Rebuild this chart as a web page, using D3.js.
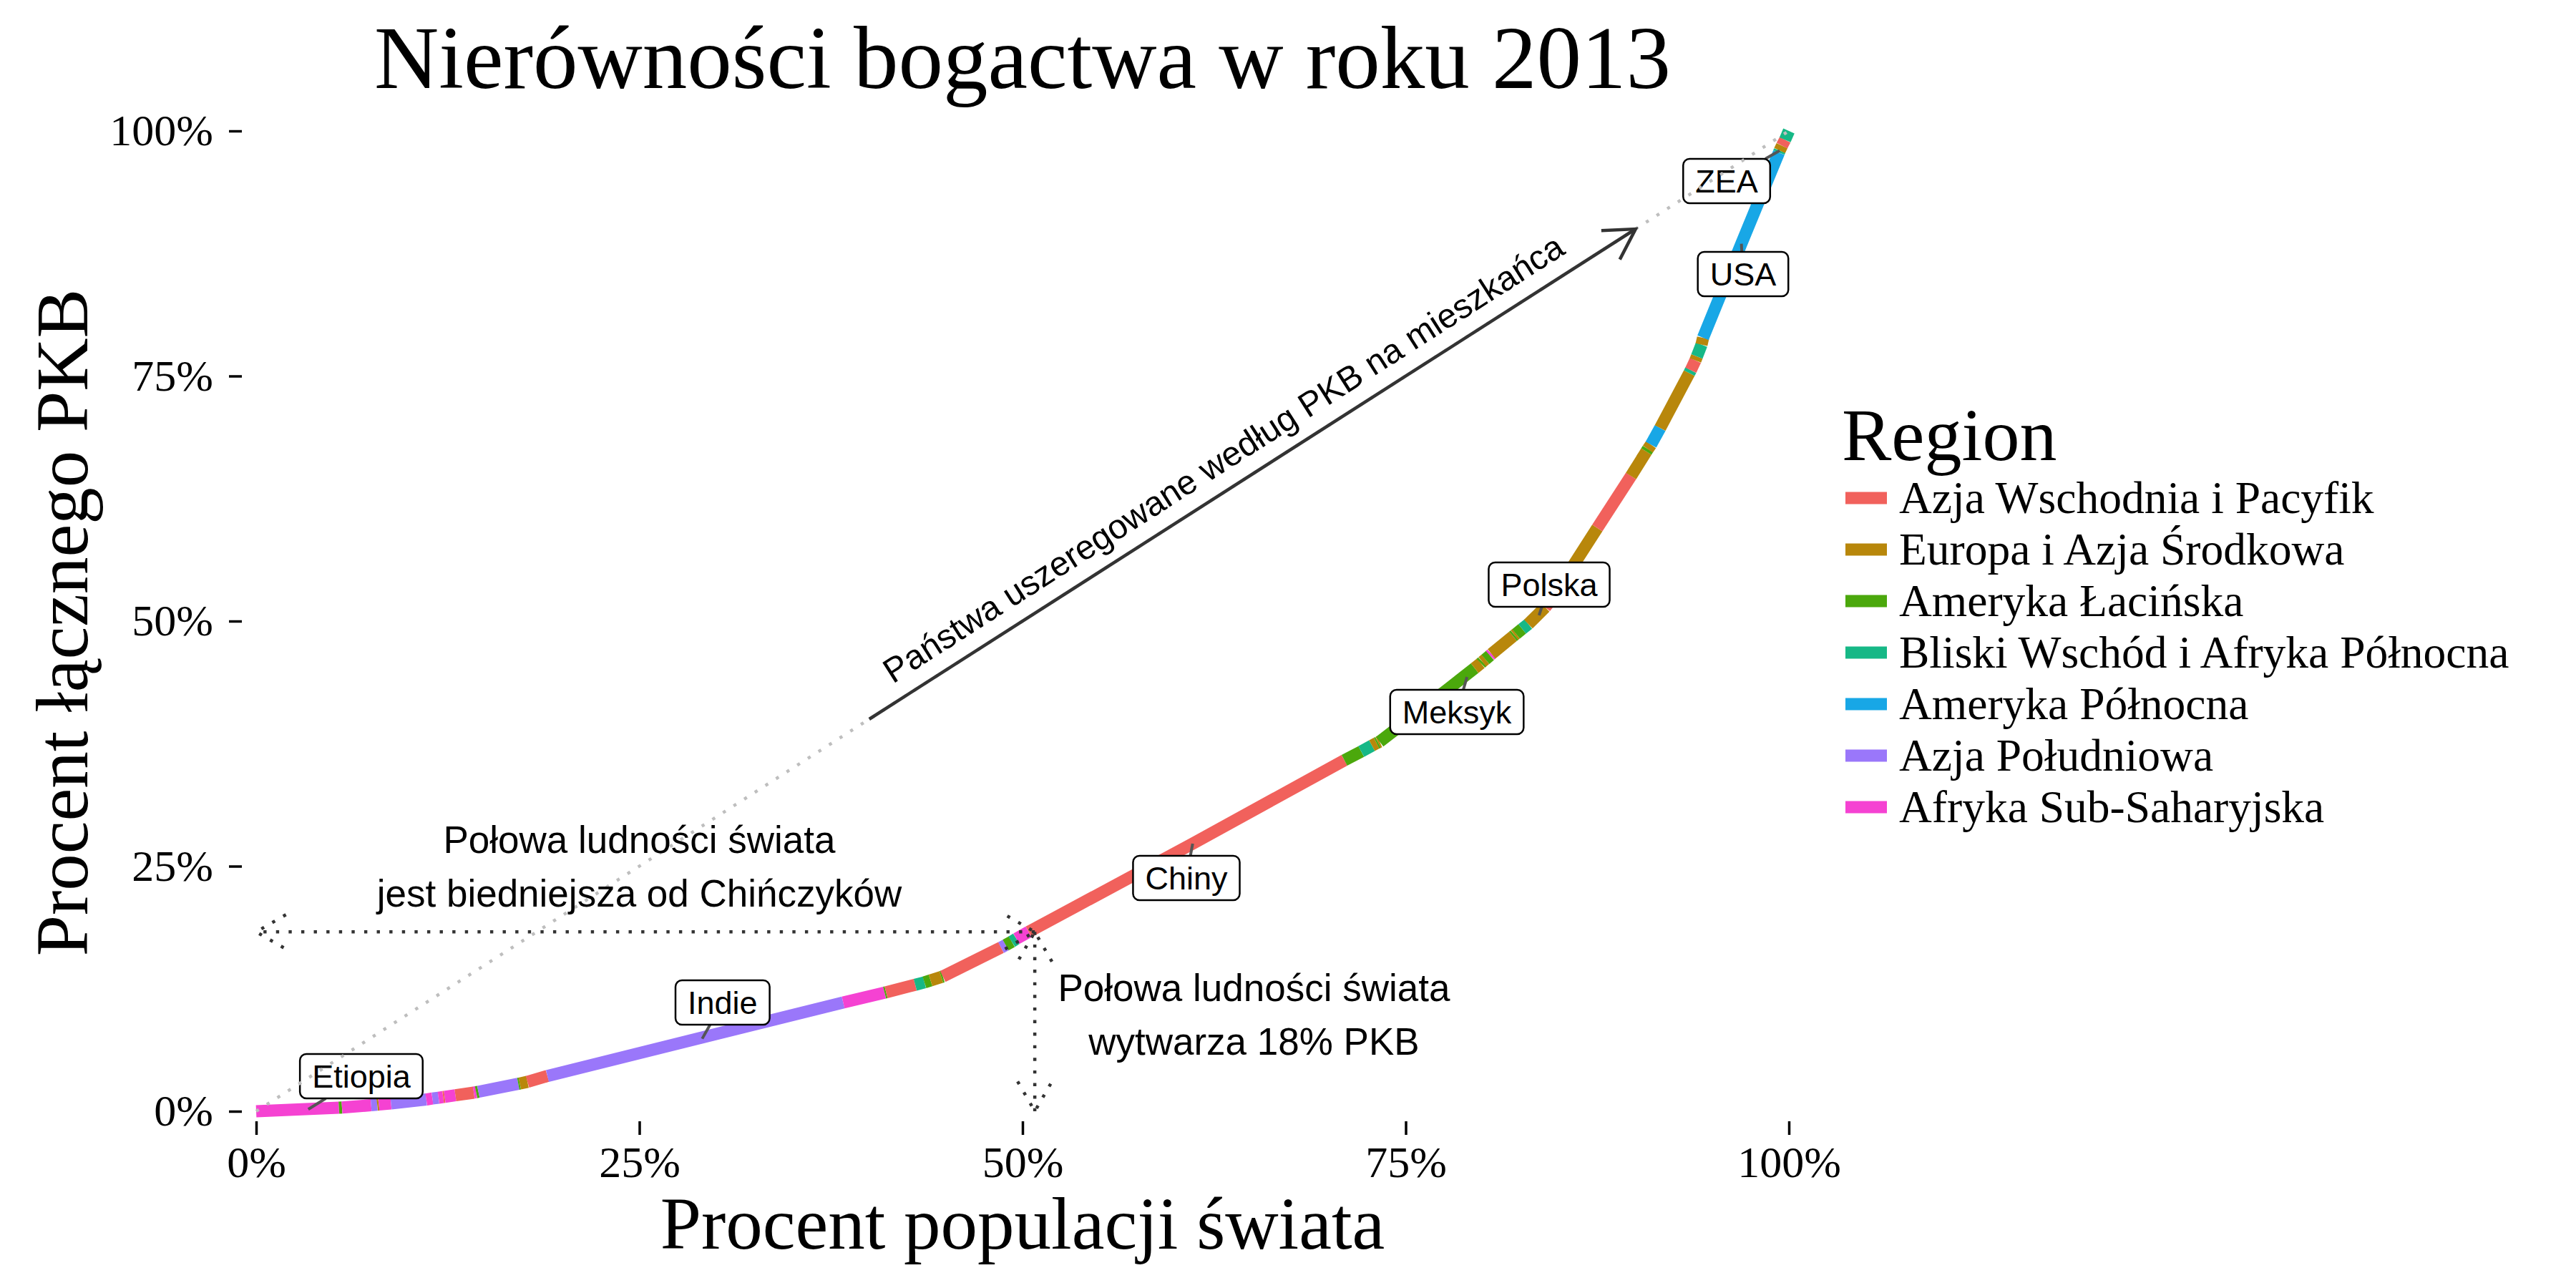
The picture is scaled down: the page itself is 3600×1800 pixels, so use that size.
<!DOCTYPE html>
<html lang="pl">
<head>
<meta charset="UTF-8">
<title>Nierówności bogactwa w roku 2013</title>
<script src="https://d3js.org/d3.v7.min.js"></script>
<style>
  body { margin: 0; background: #fff; }
  svg { display: block; }
</style>
</head>
<body>
<script>
var w = 3600, h = 1800;

// regions (legend order) and their colours
var regions = ["Azja Wschodnia i Pacyfik", "Europa i Azja Środkowa", "Ameryka Łacińska",
  "Bliski Wschód i Afryka Północna", "Ameryka Północna", "Azja Południowa", "Afryka Sub-Saharyjska"];
var regionColors = ["#F1615C", "#B8870B", "#4BA80C", "#16B886", "#18A7E6", "#9A77FA", "#F542D2"];

// countries sorted by GDP per capita: cumulative population share, cumulative GDP share,
// and the region of the piece of curve that ends at this point (-1 for the origin)
var popShare = [0, 0.054, 0.056, 0.075, 0.079, 0.080, 0.088, 0.111, 0.115, 0.119, 0.122, 0.123,
  0.130, 0.142, 0.1435, 0.145, 0.171, 0.172, 0.177, 0.190, 0.383, 0.410, 0.411, 0.430, 0.436,
  0.440, 0.447, 0.448, 0.486, 0.489, 0.493, 0.496, 0.504, 0.611, 0.710, 0.721, 0.728, 0.731,
  0.732, 0.733, 0.777, 0.795, 0.799, 0.800, 0.802, 0.805, 0.806, 0.820, 0.821, 0.822, 0.826,
  0.830, 0.841, 0.846, 0.859, 0.875, 0.897, 0.907, 0.908, 0.910, 0.916, 0.935, 0.936, 0.939,
  0.940, 0.943, 0.944, 0.969, 0.9935, 0.994, 0.9955, 0.9975, 1.0];
var gdpShare = [0, 0.0036, 0.0038, 0.0062, 0.0067, 0.0069, 0.008, 0.012, 0.013, 0.0138, 0.0145,
  0.0147, 0.0163, 0.019, 0.0194, 0.0199, 0.028, 0.0283, 0.030, 0.036, 0.111, 0.121, 0.1214,
  0.129, 0.1315, 0.1335, 0.137, 0.1375, 0.167, 0.1695, 0.173, 0.176, 0.183, 0.273, 0.358, 0.367,
  0.373, 0.3755, 0.3763, 0.377, 0.430, 0.452, 0.457, 0.4585, 0.461, 0.465, 0.4665, 0.4845,
  0.4858, 0.487, 0.492, 0.497, 0.514, 0.524, 0.556, 0.595, 0.648, 0.673, 0.6755, 0.680, 0.697,
  0.753, 0.756, 0.766, 0.770, 0.782, 0.789, 0.885, 0.978, 0.980, 0.985, 0.991, 1.0];
var pieceRegion = [-1, 6, 2, 6, 5, 1, 6, 5, 6, 5, 6, 0,
  6, 0, 6, 2, 5, 2, 1, 0, 5, 6, 2, 0, 3,
  2, 1, 2, 0, 5, 2, 3, 6, 0, 0, 2, 3, 1,
  2, 1, 2, 2, 1, 2, 1, 2, 6, 1, 2, 1, 2,
  3, 1, 0, 1, 1, 0, 1, 2, 1, 4, 1, 3, 0,
  1, 3, 1, 4, 4, 3, 1, 0, 3];

// labelled countries: the point on the curve and where its label box sits
var labelNames = ["Etiopia", "Indie", "Chiny", "Meksyk", "Polska", "ZEA", "USA"];
var labelPop = [0.034, 0.291, 0.611, 0.790, 0.837, 0.994, 0.969];
var labelGdp = [0.002, 0.074, 0.273, 0.443, 0.506, 0.980, 0.885];
var labelBoxPop = [0.0686, 0.3043, 0.6069, 0.7834, 0.8436, 0.9594, 0.9701];
var labelBoxGdp = [0.0358, 0.1109, 0.2380, 0.4073, 0.5372, 0.9489, 0.8540];

// annotations
var halfPop = 0.508, halfGdp = 0.183;
var rankArrowFrom = 0.4, rankArrowTo = 0.9;
var rankText = "Państwa uszeregowane według PKB na mieszkańca";
var rankTextPos = [0.631, 0.666];
var noteLines = [["Połowa ludności świata", "jest biedniejsza od Chińczyków"],
  ["Połowa ludności świata", "wytwarza 18% PKB"]];
var notePop = [0.25, 0.651];
var noteGdp = [0.249, 0.0985];

var axisTicks = [0, 0.25, 0.5, 0.75, 1];

var serif = "'Liberation Serif', 'Times New Roman', serif";
var sans = "'Liberation Sans', Arial, Helvetica, sans-serif";

var x = d3.scaleLinear().domain([0, 1]).range([358, 2500]);
var y = d3.scaleLinear().domain([0, 1]).range([1553, 183]);
var color = d3.scaleOrdinal().domain(d3.range(regions.length)).range(regionColors);

var svg = d3.select("body").append("svg")
  .attr("width", w)
  .attr("height", h)
  .style("background", "#fff");

// axes
var yAxis = svg.append("g")
  .attr("transform", "translate(338,0)")
  .call(d3.axisLeft(y).tickValues(axisTicks).tickFormat(d3.format(".0%")).tickSize(18).tickPadding(22));
var xAxis = svg.append("g")
  .attr("transform", "translate(0,1567)")
  .call(d3.axisBottom(x).tickValues(axisTicks).tickFormat(d3.format(".0%")).tickSize(19).tickPadding(15));
[yAxis, xAxis].forEach(function (g) {
  g.select(".domain").remove();
  g.selectAll(".tick line").attr("stroke", "#000").attr("stroke-width", 3.5);
  g.selectAll(".tick text").attr("fill", "#000").style("font-family", serif).style("font-size", "62px");
});

// the curve, one path per run of countries from the same region
var line = d3.line()
  .x(function (i) { return x(popShare[i]); })
  .y(function (i) { return y(gdpShare[i]); });

var runs = [];
var start = 0;
for (var i = 1; i < popShare.length; i++) {
  if (i === popShare.length - 1 || pieceRegion[i + 1] !== pieceRegion[i]) {
    runs.push({ region: pieceRegion[i], idx: d3.range(start, i + 1) });
    start = i;
  }
}
svg.append("g").selectAll("path")
  .data(runs)
  .enter()
  .append("path")
  .attr("d", function (r) { return line(r.idx); })
  .attr("fill", "none")
  .attr("stroke", function (r) { return color(r.region); })
  .attr("stroke-width", 17)
  .attr("stroke-linejoin", "round")
  .attr("stroke-linecap", "butt");

// labels with leader segments
var labels = svg.append("g");
labelNames.forEach(function (name, k) {
  var cx = x(labelBoxPop[k]), cy = y(labelBoxGdp[k]);
  var px = x(labelPop[k]), py = y(labelGdp[k]);
  var g = labels.append("g");
  var seg = g.append("line");
  var box = g.append("rect");
  var t = g.append("text")
    .attr("x", cx)
    .attr("y", cy + 16)
    .attr("text-anchor", "middle")
    .style("font-family", sans)
    .style("font-size", "45px")
    .text(name);
  var bw = t.node().getComputedTextLength() + 34, bh = 62;
  box.attr("x", cx - bw / 2).attr("y", cy - bh / 2)
    .attr("width", bw).attr("height", bh)
    .attr("rx", 9)
    .attr("fill", "#fff")
    .attr("stroke", "#000")
    .attr("stroke-width", 2.5);
  // segment from box edge to the point
  var dx = px - cx, dy = py - cy;
  var s = Math.min(Math.abs((bw / 2) / (dx || 1e-9)), Math.abs((bh / 2) / (dy || 1e-9)));
  seg.attr("x1", cx + dx * s).attr("y1", cy + dy * s)
    .attr("x2", px).attr("y2", py)
    .attr("stroke", "#555")
    .attr("stroke-width", 4);
});

// line of perfect equality
svg.append("path")
  .attr("d", d3.line()([[x(0), y(0)], [x(1), y(1)]]))
  .attr("stroke", "#BEBEBE")
  .attr("stroke-width", 4.4)
  .attr("stroke-dasharray", "4.4 13.2")
  .attr("fill", "none");

function arrowHead(x1, y1, x2, y2, len) {
  var a = Math.atan2(y2 - y1, x2 - x1);
  return [[x2 - len * Math.cos(a - Math.PI / 6), y2 - len * Math.sin(a - Math.PI / 6)],
    [x2, y2],
    [x2 - len * Math.cos(a + Math.PI / 6), y2 - len * Math.sin(a + Math.PI / 6)]];
}

function drawArrow(p1, p2, both, dotted) {
  var g = svg.append("g")
    .attr("fill", "none")
    .attr("stroke", "#333")
    .attr("stroke-width", 4.5);
  if (dotted) g.attr("stroke-dasharray", "4.4 13.2");
  g.append("path").attr("d", d3.line()([p1, p2]));
  g.append("path").attr("d", d3.line()(arrowHead(p1[0], p1[1], p2[0], p2[1], 48)));
  if (both) g.append("path").attr("d", d3.line()(arrowHead(p2[0], p2[1], p1[0], p1[1], 48)));
}

drawArrow([x(rankArrowFrom), y(rankArrowFrom)], [x(rankArrowTo), y(rankArrowTo)], false, false);
drawArrow([x(halfPop), y(halfGdp)], [x(0), y(halfGdp)], true, true);
drawArrow([x(halfPop), y(halfGdp)], [x(halfPop), y(0)], true, true);

var angle = -Math.atan2(y(0) - y(1), x(1) - x(0)) * 180 / Math.PI;
svg.append("text")
  .attr("transform", "translate(" + x(rankTextPos[0]) + "," + y(rankTextPos[1]) + ") rotate(" + angle + ")")
  .attr("text-anchor", "middle")
  .attr("dy", "0.35em")
  .style("font-family", sans)
  .style("font-size", "48px")
  .text(rankText);

noteLines.forEach(function (lines, k) {
  var t = svg.append("text")
    .attr("text-anchor", "middle")
    .style("font-family", sans)
    .style("font-size", "53px");
  lines.forEach(function (l, j) {
    t.append("tspan")
      .attr("x", x(notePop[k]))
      .attr("y", y(noteGdp[k]) + (j - (lines.length - 1) / 2) * 75 + 18)
      .text(l);
  });
});

// titles
svg.append("text")
  .attr("x", 1429).attr("y", 123)
  .attr("text-anchor", "middle")
  .style("font-family", serif)
  .style("font-size", "125px")
  .text("Nierówności bogactwa w roku 2013");
svg.append("text")
  .attr("x", 1429).attr("y", 1745)
  .attr("text-anchor", "middle")
  .style("font-family", serif)
  .style("font-size", "103px")
  .text("Procent populacji świata");
svg.append("text")
  .attr("transform", "translate(122,870) rotate(-90)")
  .attr("text-anchor", "middle")
  .style("font-family", serif)
  .style("font-size", "103px")
  .text("Procent łącznego PKB");

// legend
var legend = svg.append("g");
legend.append("text")
  .attr("x", 2574).attr("y", 643)
  .style("font-family", serif)
  .style("font-size", "104px")
  .text("Region");
var item = legend.selectAll("g.item")
  .data(regions)
  .enter()
  .append("g")
  .attr("class", "item")
  .attr("transform", function (d, i) { return "translate(0," + (696 + i * 72) + ")"; });
item.append("rect")
  .attr("x", 2579).attr("y", -8.5)
  .attr("width", 58).attr("height", 17)
  .attr("fill", function (d, i) { return color(i); });
item.append("text")
  .attr("x", 2654)
  .attr("dy", "0.33em")
  .style("font-family", serif)
  .style("font-size", "63.5px")
  .text(function (d) { return d; });
</script>
</body>
</html>
